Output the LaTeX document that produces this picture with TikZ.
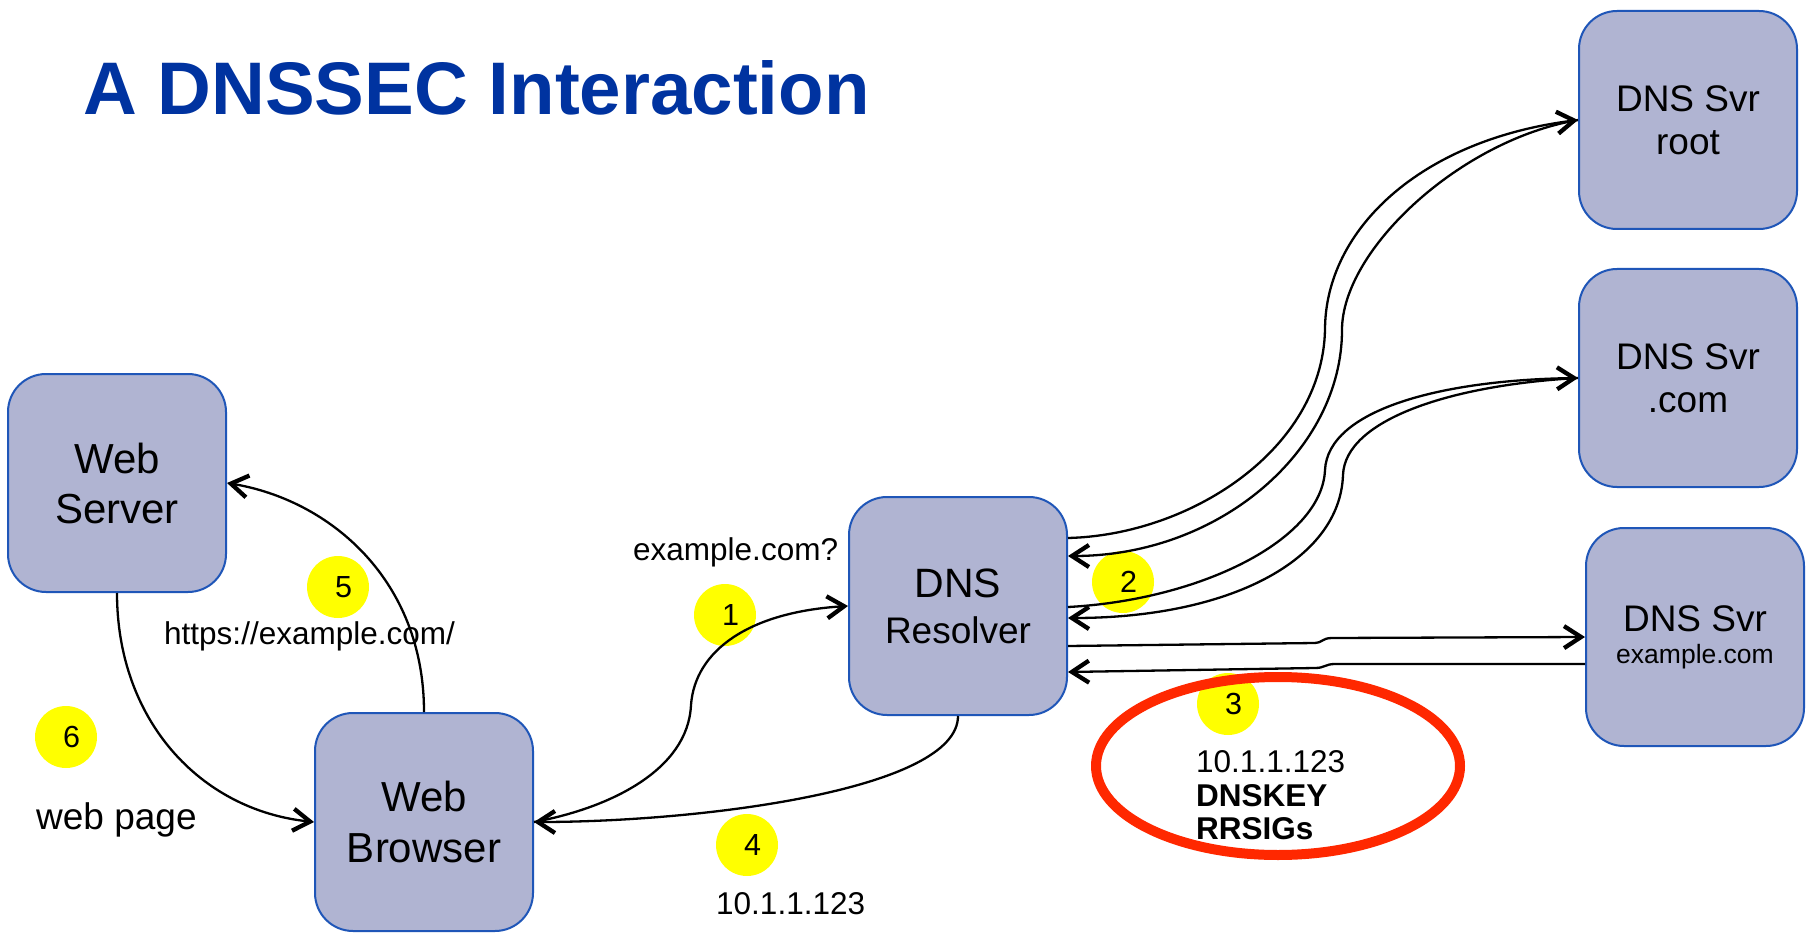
\documentclass[tikz,border=0pt]{standalone}
\usepackage{fontspec}
\setmainfont{Liberation Sans}
\usetikzlibrary{arrows.meta,calc}
\definecolor{boxfill}{RGB}{176,180,210}
\definecolor{boxline}{RGB}{31,86,184}
\definecolor{titleblue}{RGB}{0,51,160}
\definecolor{ringred}{RGB}{255,40,0}
\definecolor{badgeyellow}{RGB}{255,255,0}
\begin{document}
\begin{tikzpicture}[x=1pt,y=-1pt,
  box/.style={draw=boxline, line width=2pt, fill=boxfill, rounded corners=38pt,
    minimum width=218pt, minimum height=218pt, inner sep=0pt, align=center, text=black},
  conn/.style={line width=2.3pt, -{Straight Barb[length=17pt,width=22pt,line width=4.3pt]}},
  badge/.style={circle, fill=badgeyellow, minimum size=62pt, inner sep=0pt,
    font=\fontsize{30.5}{32}\selectfont},
  lbl/.style={anchor=base west, inner sep=0pt, font=\fontsize{31.5}{34}\selectfont}
]
\fill[white] (0,0) rectangle (1810,933);
\useasboundingbox (0,0) rectangle (1810,933);

% title
\node[anchor=base west, inner sep=0pt, text=titleblue,
  font=\fontsize{74.5}{80}\selectfont\bfseries] (title) at (83,115) {A DNSSEC Interaction};

% boxes
\node[box, font=\fontsize{42}{50}\selectfont] (server) at (117,483) {Web\\Server};
\node[box, font=\fontsize{42}{51}\selectfont] (browser) at (424,822) {Web\\Browser};
\node[box, font=\fontsize{41}{46}\selectfont] (resolver) at (958,606)
  {DNS\\{\fontsize{37}{46}\selectfont Resolver}};
\node[box, font=\fontsize{37}{43}\selectfont] (root) at (1688,120) {DNS Svr\\root};
\node[box, font=\fontsize{37}{43}\selectfont] (com) at (1688,378) {DNS Svr\\.com};
\node[box, font=\fontsize{37}{32}\selectfont] (ex) at (1695,637)
  {DNS Svr\\{\fontsize{26.5}{32}\selectfont example.com}};

% numbered badges
\node[badge] (n1) at (725,615) {\hspace*{11pt}1};
\node[badge] (n2) at (1123,582) {\hspace*{11pt}2};
\node[badge] (n3) at (1228,704) {\hspace*{11pt}3};
\node[badge] (n4) at (747,845) {\hspace*{11pt}4};
\node[badge] (n5) at (338,587) {\hspace*{11pt}5};
\node[badge] (n6) at (66,737) {\hspace*{11pt}6};

% red ring
\draw[ringred, line width=10pt] (1278,766) ellipse [x radius=182, y radius=89];

% labels
\node[lbl] (q) at (633,560) {example.com?};
\node[lbl] (url) at (164,644) {https://example.com/};
\node[lbl, font=\fontsize{37}{40}\selectfont] (wp) at (36,829) {web page};
\node[lbl] (ip) at (716,914) {10.1.1.123};
\node[anchor=north west, inner sep=0pt, align=left,
  font=\fontsize{31.5}{33.5}\selectfont] (ans) at (1196,750.5)
  {10.1.1.123\\\textbf{DNSKEY}\\\textbf{RRSIGs}};

% connectors
\draw[conn] (browser.north) .. controls (424,580) and (330,500) .. (server.east);
\draw[conn] (server.south) .. controls (117,720) and (200,810) .. (browser.west);
\draw[conn] (browser.east) .. controls (610,808) and (688,770) .. (691,705)
  .. controls (695,650) and (750,612) .. (resolver.west);
\draw[conn] (resolver.south) .. controls (958,790) and (700,822) .. (browser.east);

\draw[conn] ($(resolver.east)+(0,-68)$) .. controls (1190,535) and (1322,450) .. (1325,330)
  .. controls (1325,230) and (1420,140) .. (root.west);
\draw[conn] (root.west) .. controls (1460,140) and (1342,250) .. (1342,330)
  .. controls (1342,450) and (1220,556) .. ($(resolver.east)+(0,-50)$);

\draw[conn] ($(resolver.east)+(0,1)$) .. controls (1200,600) and (1322,540) .. (1325,470)
  .. controls (1328,410) and (1440,380) .. (com.west);
\draw[conn] (com.west) .. controls (1450,385) and (1345,420) .. (1343,475)
  .. controls (1340,560) and (1230,618) .. ($(resolver.east)+(0,12)$);

\draw[conn] ($(resolver.east)+(0,40)$) -- (1315,643) .. controls (1322,643) and (1322,638) .. (1332,638)
  -- (ex.west);
\draw[conn] ($(ex.west)+(0,27)$) -- (1335,664) .. controls (1325,664) and (1325,668) .. (1315,668)
  -- ($(resolver.east)+(0,66)$);
\end{tikzpicture}
\end{document}
